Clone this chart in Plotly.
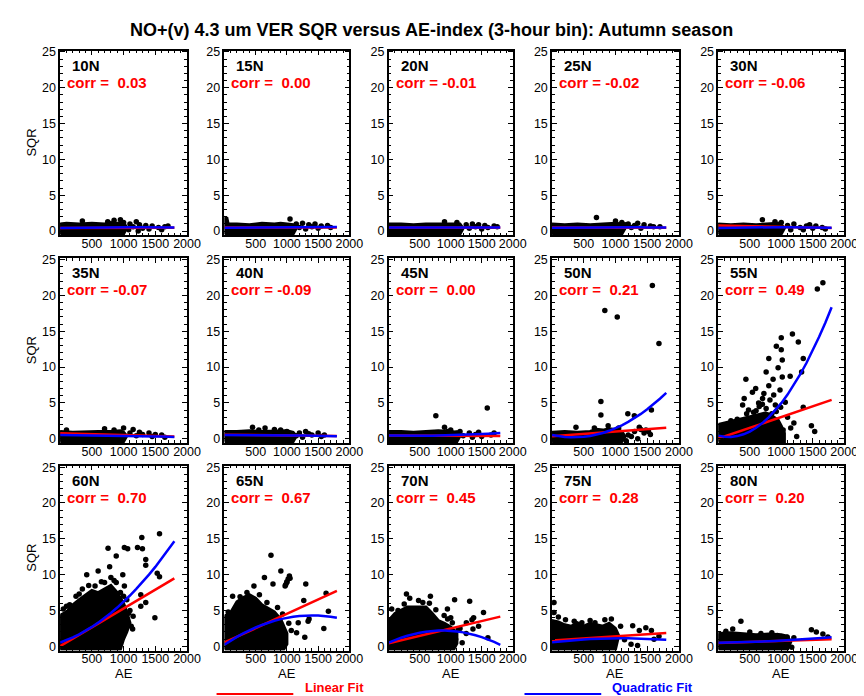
import plotly.graph_objects as go

# ---------------- data ----------------
labels = ["10N", "15N", "20N", "25N", "30N",
          "35N", "40N", "45N", "50N", "55N",
          "60N", "65N", "70N", "75N", "80N"]
corr = [0.03, 0.00, -0.01, -0.02, -0.06,
        -0.07, -0.09, 0.00, 0.21, 0.49,
        0.70, 0.67, 0.45, 0.28, 0.20]

# dense part of each scatter cloud (outline of the solid black region)
cloud_x = [
    [0, 0, 100, 300, 500, 700, 800, 900, 1000, 1050, 1000, 0],
    [0, 0, 40, 60, 200, 400, 600, 800, 900, 1000, 1100, 1150, 1100, 0],
    [0, 0, 200, 400, 600, 800, 1000, 1150, 1200, 1150, 0],
    [0, 0, 200, 400, 600, 800, 1000, 1100, 1150, 1100, 0],
    [0, 0, 200, 400, 600, 800, 950, 1000, 1050, 1000, 0],
    [0, 0, 200, 400, 600, 800, 950, 1000, 1050, 1000, 0],
    [0, 0, 200, 400, 600, 800, 1000, 1100, 1150, 1100, 0],
    [0, 0, 200, 400, 600, 800, 1000, 1100, 1150, 1100, 0],
    [0, 0, 200, 400, 600, 700, 800, 900, 1000, 1100, 1150, 1100, 0],
    [0, 0, 100, 300, 500, 650, 750, 850, 950, 1000, 1050, 1050, 0],
    [0, 0, 100, 200, 300, 400, 500, 600, 700, 800, 900, 1000, 1050, 1100, 1050, 1000, 950, 0],
    [0, 0, 100, 200, 300, 400, 500, 600, 700, 800, 900, 950, 1000, 1000, 950, 0],
    [0, 0, 100, 200, 300, 400, 500, 600, 700, 800, 900, 1000, 1100, 1100, 1050, 0],
    [0, 0, 100, 200, 300, 400, 500, 600, 700, 800, 900, 1000, 1050, 1000, 0],
    [0, 0, 200, 400, 600, 800, 1000, 1100, 1150, 1100, 0],
]
cloud_y = [
    [-0.4, 1.0, 1.1, 1.0, 1.1, 1.0, 1.2, 1.1, 1.2, 0.5, -0.4, -0.4],
    [-0.4, 1.9, 1.8, 1.0, 1.0, 0.9, 1.1, 1.0, 1.1, 1.0, 0.9, 0.4, -0.4, -0.4],
    [-0.4, 1.0, 1.0, 0.9, 1.0, 1.0, 1.1, 1.0, 0.4, -0.4, -0.4],
    [-0.4, 1.0, 0.9, 1.0, 0.9, 1.0, 1.1, 1.0, 0.4, -0.4, -0.4],
    [-0.4, 1.0, 0.9, 1.0, 0.9, 1.0, 1.1, 0.9, 0.4, -0.4, -0.4],
    [-0.4, 1.0, 0.9, 1.0, 1.0, 1.0, 1.1, 0.9, 0.4, -0.4, -0.4],
    [-0.4, 1.0, 1.0, 1.1, 1.0, 1.0, 1.1, 0.9, 0.4, -0.4, -0.4],
    [-0.4, 1.0, 1.0, 0.9, 1.0, 1.1, 1.0, 0.9, 0.4, -0.4, -0.4],
    [-0.4, 0.9, 1.0, 0.9, 1.0, 1.3, 1.2, 1.4, 1.3, 1.0, 0.3, -0.4, -0.4],
    [-0.4, 2.0, 2.2, 2.6, 3.0, 3.4, 3.6, 3.2, 2.6, 1.8, 0.8, -0.4, -0.4],
    [-0.4, 4.3, 4.8, 5.8, 6.5, 7.2, 7.8, 7.5, 8.0, 8.5, 7.5, 6.0, 4.8, 3.3, 2.0, 1.0, -0.4, -0.4],
    [-0.4, 4.2, 4.7, 6.2, 6.8, 7.2, 6.7, 5.8, 5.3, 4.8, 3.8, 2.8, 1.8, 0.3, -0.4, -0.4],
    [-0.4, 3.6, 4.6, 5.0, 5.5, 5.5, 5.5, 5.5, 4.6, 3.6, 3.2, 2.7, 1.8, 0.4, -0.4, -0.4],
    [-0.4, 3.6, 3.4, 3.0, 2.8, 3.3, 2.8, 3.2, 3.0, 2.8, 3.2, 2.5, 1.5, -0.4, -0.4],
    [-0.4, 1.8, 1.9, 1.8, 1.6, 1.7, 1.6, 1.4, 0.6, -0.4, -0.4],
]

# individual (sparse) points outside the dense clouds
pts_x = [
    [350, 750, 850, 950, 1000, 1100, 1150, 1200, 1250, 1300, 1350, 1400, 1450, 1550, 1600, 1650, 1700, 1080, 1230],
    [1050, 1150, 1200, 1250, 1300, 1350, 1400, 1450, 1500, 1550, 1650, 1700],
    [900, 1100, 1250, 1300, 1350, 1400, 1450, 1500, 1550, 1600, 1700, 1750],
    [700, 1000, 1100, 1150, 1200, 1250, 1300, 1350, 1400, 1450, 1550, 1600, 1700],
    [700, 900, 1000, 1100, 1150, 1200, 1300, 1350, 1400, 1450, 1500, 1550, 1650, 1700],
    [100, 700, 850, 1000, 1100, 1150, 1200, 1250, 1300, 1400, 1450, 1500, 1600, 1650],
    [450, 550, 650, 800, 900, 1000, 1150, 1200, 1250, 1300, 1350, 1400, 1500, 1550, 1600],
    [760, 900, 1590, 950, 1000, 1100, 1150, 1200, 1300, 1350, 1400, 1450, 1500, 1650, 1700],
    [832, 1028, 1581, 1685, 770, 770, 1194, 1297, 1566, 377, 884, 667, 1375, 1167, 1050,
     1200, 1250, 1300, 1350, 1400, 1450, 1480, 1520, 1550],
    [1573, 1661, 1177, 1000, 1271, 922, 1000, 802, 1016, 1349, 1323, 760, 1016, 1141, 438,
     594, 542, 411, 724, 880, 703, 1349, 1479, 1531, 1245, 386, 906, 802, 1063, 850,
     950, 650, 1100, 1150, 1200, 980, 870, 600, 760, 820, 700, 560, 480, 920, 990, 1030,
     450, 300, 200, 640, 780],
    [1566, 1287, 755, 884, 1012, 1064, 1219, 1297, 1349, 1349, 780, 987, 419, 599, 1530,
     1566, 1271, 1271, 1349, 1493, 1142, 857, 1012, 884, 100, 50, 250, 350, 450, 650,
     800, 950, 1050, 1100, 1150, 900, 950, 150, 300, 550, 700, 850, 1000, 1080, 1120],
    [745, 903, 1050, 998, 971, 777, 640, 1302, 472, 131, 1270, 1627, 1664, 1339, 1181,
     1355, 1591, 1155, 1286, 866, 980, 1000, 1020, 1040, 60, 250, 360, 560, 680, 850,
     930, 1030, 1070],
    [286, 339, 481, 672, 656, 1063, 1306, 947, 894, 1529, 1370, 1343, 1252, 1026, 48,
     392, 1359, 1079, 1185, 841, 1150, 1450, 1600, 1250, 1000, 150, 250, 550, 760, 950,
     1120],
    [31, 31, 212, 470, 832, 935, 677, 1271, 1375, 1478, 1566, 1245, 1348, 1607, 1685,
     1142, 880, 100, 350, 600, 1080],
    [359, 229, 1479, 1557, 1661, 1036, 1166, 677, 938, 1094, 1200, 1740, 120, 500, 850],
]
pts_y = [
    [1.4, 1.3, 1.5, 1.6, 1.2, 1.0, 0.6, 1.3, 0.9, 0.4, 0.8, 0.3, 0.7, 0.5, 0.2, 0.6, 0.7, 0.2, 0.0],
    [1.7, 1.0, 0.5, 1.1, 0.3, 0.9, 0.6, 1.0, 0.4, 0.7, 0.8, 0.5],
    [1.3, 1.2, 0.9, 0.4, 1.0, 0.6, 0.9, 0.3, 0.8, 0.5, 0.7, 0.6],
    [1.9, 1.4, 1.2, 0.9, 1.0, 0.5, 0.8, 1.1, 0.4, 0.9, 0.7, 0.6, 0.6],
    [1.6, 1.3, 1.2, 0.8, 0.2, 1.0, 0.5, 0.2, 0.7, 0.9, 0.4, 0.7, 0.5, 0.3],
    [1.2, 1.4, 1.2, 1.5, 0.8, 1.3, 0.4, 0.9, 0.6, 0.8, 0.3, 0.6, 0.5, 0.2],
    [1.6, 1.2, 1.5, 1.3, 1.2, 1.0, 0.4, 0.8, 0.2, 1.0, 0.7, 0.5, 0.8, 0.3, 0.5],
    [3.2, 1.6, 4.3, 1.0, 1.2, 0.8, 1.0, 0.4, 0.8, 0.2, 0.6, 0.9, 0.3, 0.5, 0.8],
    [17.9, 17.0, 21.4, 13.3, 5.2, 3.3, 3.5, 3.2, 4.0, 1.6, 1.8, 1.5, 1.6, -0.3, 1.5,
     0.5, 0.3, 1.0, 0.0, 1.3, 0.8, 1.2, 1.0, 0.6],
    [20.9, 21.75, 14.6, 14.1, 13.5, 12.9, 12.4, 11.2, 11.0, 11.2, 9.3, 9.3, 8.6, 8.7, 8.3,
     7.0, 6.5, 5.6, 6.3, 6.1, 5.6, 4.4, 1.8, 1.0, 0.3, 4.7, 4.7, 7.4, 5.1, 3.5,
     9.9, 4.5, 3.0, 1.5, 2.2, 6.8, 8.3, 3.9, 4.2, 5.4, 4.8, 3.7, 4.0, 3.8, 4.4, 1.2,
     3.5, 2.7, 2.5, 5.0, 3.3],
    [15.7, 15.2, 13.7, 12.6, 13.8, 13.6, 13.8, 13.6, 12.1, 11.3, 11.1, 10.0, 10.0, 10.5, 10.2,
     9.7, 7.2, 5.6, 6.1, 4.0, 2.4, 1.1, 8.4, 8.9, 5.6, 5.2, 7.0, 8.0, 8.5, 9.0,
     9.6, 7.5, 6.5, 5.0, 4.2, 3.0, 1.8, 5.8, 7.3, 8.4, 8.9, 9.2, 7.0, 4.6, 2.8],
    [12.7, 10.5, 9.5, 8.9, 8.4, 8.7, 9.6, 8.7, 8.4, 7.0, 6.4, 7.4, 4.9, 3.5, 3.3,
     3.8, 2.5, 1.9, 1.25, 3.9, 8.6, 9.0, 9.4, 9.8, 4.8, 6.9, 7.5, 7.2, 6.1, 5.4,
     4.5, 3.2, 2.2],
    [7.3, 6.7, 6.4, 7.0, 6.0, 6.5, 6.3, 5.2, 4.3, 4.7, 4.0, 3.7, 3.3, 3.3, 5.2,
     4.7, 2.4, 1.0, 0.5, 1.6, 2.5, 2.8, 1.2, 1.8, 4.0, 5.0, 5.9, 6.1, 5.1, 3.8,
     2.3],
    [6.1, 4.7, 3.7, 3.3, 3.7, 3.8, 3.3, 2.85, 2.2, 2.6, 2.2, 0.3, 0.1, 1.0, 1.4,
     0.9, 2.0, 4.1, 3.5, 3.6, 2.8],
    [3.5, 2.4, 2.3, 2.0, 1.7, -0.15, -0.15, 1.8, 1.5, 1.3, 1.2, 1.3, 2.1, 2.0, 1.9],
]

# fit coefficients: linear y = a + b*AE ; quadratic y = a + b*AE + c*AE^2
lin_a = [0.45, 0.50, 0.50, 0.50, 0.80, 0.75, 0.55, 0.45, 0.33, 0.02, 0.02, 0.53, 0.43, 0.80, 0.45]
lin_b = [2e-5, 1e-5, -1e-5, -2e-5, -2e-4, -2.5e-4, -1e-4, -5e-5, 6.7e-4, 3.0e-3, 5.25e-3, 4.0e-3, 2.06e-3, 5.8e-4, 3e-4]
quad_a = [0.42, 0.48, 0.50, 0.48, 0.45, 0.50, 0.50, 0.45, 0.53, 0.43, 0.53, 0.22, 0.50, 0.55, 0.50]
quad_b = [2e-4, 1e-4, 5e-5, 1e-4, 2e-4, -5e-5, 5e-5, -2e-4, -1.99e-3, -2.25e-3, 3.0e-3, 5.85e-3, 3.944e-3, 1.039e-3, 1e-4]
quad_c = [-8e-8, -3e-8, -3e-8, -5e-8, -1e-7, -5e-8, -8e-8, 2.2e-7, 2.918e-6, 6.78e-6, 2.69e-6, -2.09e-6, -2.284e-6, -4.69e-7, 1.8e-7]
fit_ae = [0, 100, 200, 300, 400, 500, 600, 700, 800, 900, 1000,
          1100, 1200, 1300, 1400, 1500, 1600, 1700, 1800]

x_ticks = [500, 1000, 1500, 2000]
y_ticks = [0, 5, 10, 15, 20, 25]

title = "NO+(v) 4.3 um VER SQR versus AE-index (3-hour bin): Autumn season"

# ---------------- layout geometry (pixels) ----------------
W, H = 864, 696
cols_px = [(53, 182), (220, 347), (387, 513), (553, 682), (722, 850)]
rows_px = [(38, 225), (248, 435), (458, 645)]

FONT = "Liberation Sans, Arial, sans-serif"
fig = go.Figure()
layout = dict(
    width=W, height=H, margin=dict(l=0, r=0, t=0, b=0),
    paper_bgcolor="white", plot_bgcolor="white", showlegend=False,
    font=dict(family=FONT, color="black", size=12),
)
annotations = []

for i in range(15):
    r, c = divmod(i, 5)
    ax = "" if i == 0 else str(i + 1)
    xa, ya = "x" + ax, "y" + ax
    L, R = cols_px[c]
    T, B = rows_px[r]
    # cloud
    fig.add_trace(go.Scatter(x=cloud_x[i], y=cloud_y[i], xaxis=xa, yaxis=ya,
                             mode="lines", fill="toself", fillcolor="black",
                             line=dict(color="black", width=3), hoverinfo="skip"))
    # scattered points
    fig.add_trace(go.Scatter(x=pts_x[i], y=pts_y[i], xaxis=xa, yaxis=ya, mode="markers",
                             marker=dict(symbol="circle", size=5.5, color="black"),
                             hoverinfo="skip"))
    # fits
    lin_y = [lin_a[i] + lin_b[i] * v for v in fit_ae]
    quad_y = [quad_a[i] + quad_b[i] * v + quad_c[i] * v * v for v in fit_ae]
    fig.add_trace(go.Scatter(x=fit_ae, y=lin_y, xaxis=xa, yaxis=ya, mode="lines",
                             line=dict(color="#ff0000", width=2.5), hoverinfo="skip"))
    fig.add_trace(go.Scatter(x=fit_ae, y=quad_y, xaxis=xa, yaxis=ya, mode="lines",
                             line=dict(color="#0000ff", width=2.5), hoverinfo="skip"))

    common = dict(showline=True, linecolor="black", linewidth=1.5, mirror="ticks",
                  ticks="inside", ticklen=5, tickcolor="black", tickwidth=1,
                  showgrid=False, zeroline=False,
                  tickfont=dict(family=FONT, size=12.5, color="black"))
    layout["xaxis" + ax] = dict(
        common, domain=[L / W, R / W], range=[0, 2000], anchor=ya,
        tickvals=x_ticks, ticktext=[str(v) for v in x_ticks], ticklabelstandoff=-4,
        minor=dict(dtick=100, ticklen=3, ticks="inside", tickcolor="black"))
    layout["yaxis" + ax] = dict(
        common, domain=[1 - B / H, 1 - T / H], range=[-0.6, 25.2], anchor=xa,
        tickvals=y_ticks, ticktext=[str(v) for v in y_ticks],
        minor=dict(dtick=1, ticklen=3, ticks="inside", tickcolor="black"))

    annotations.append(dict(xref="paper", yref="paper", x=(L + 10) / W, y=1 - (T + 15) / H,
                            xanchor="left", yanchor="middle", showarrow=False,
                            text="<b>" + labels[i] + "</b>",
                            font=dict(family=FONT, size=15, color="black")))
    annotations.append(dict(xref="paper", yref="paper", x=(L + 5) / W, y=1 - (T + 32) / H,
                            xanchor="left", yanchor="middle", showarrow=False,
                            text="<b>corr =\u00a0" + ("%5.2f" % corr[i]).replace(" ", "\u00a0") + "</b>",
                            font=dict(family=FONT, size=15, color="#ff0000")))
    if c == 0:
        annotations.append(dict(xref="paper", yref="paper", x=24 / W, y=1 - (T + B) / 2 / H,
                                xanchor="center", yanchor="middle", showarrow=False,
                                textangle=-90, text="SQR",
                                font=dict(family=FONT, size=13, color="black")))
    if r == 2:
        annotations.append(dict(xref="paper", yref="paper", x=(L + R) / 2 / W, y=1 - 668 / H,
                                xanchor="center", yanchor="middle", showarrow=False,
                                text="AE", font=dict(family=FONT, size=13, color="black")))

# title
annotations.append(dict(xref="paper", yref="paper", x=430 / W, y=1 - 17 / H,
                        xanchor="center", yanchor="middle", showarrow=False,
                        text="<b>" + title + "</b>",
                        font=dict(family=FONT, size=18, color="black")))
# legend
annotations.append(dict(xref="paper", yref="paper", x=300 / W, y=1 - 682 / H,
                        xanchor="left", yanchor="middle", showarrow=False,
                        text="<b>Linear Fit</b>", font=dict(family=FONT, size=13, color="#ff0000")))
annotations.append(dict(xref="paper", yref="paper", x=612 / W, y=1 - 682 / H,
                        xanchor="left", yanchor="middle", showarrow=False,
                        text="<b>Quadratic Fit</b>", font=dict(family=FONT, size=13, color="#0000ff")))
layout["shapes"] = [
    dict(type="line", xref="paper", yref="paper", x0=212 / W, x1=290 / W,
         y0=1 - 689 / H, y1=1 - 689 / H, line=dict(color="#ff0000", width=2)),
    dict(type="line", xref="paper", yref="paper", x0=525 / W, x1=603 / W,
         y0=1 - 689 / H, y1=1 - 689 / H, line=dict(color="#0000ff", width=2)),
]
layout["annotations"] = annotations
fig.update_layout(**layout)
fig.write_html("out.html")
